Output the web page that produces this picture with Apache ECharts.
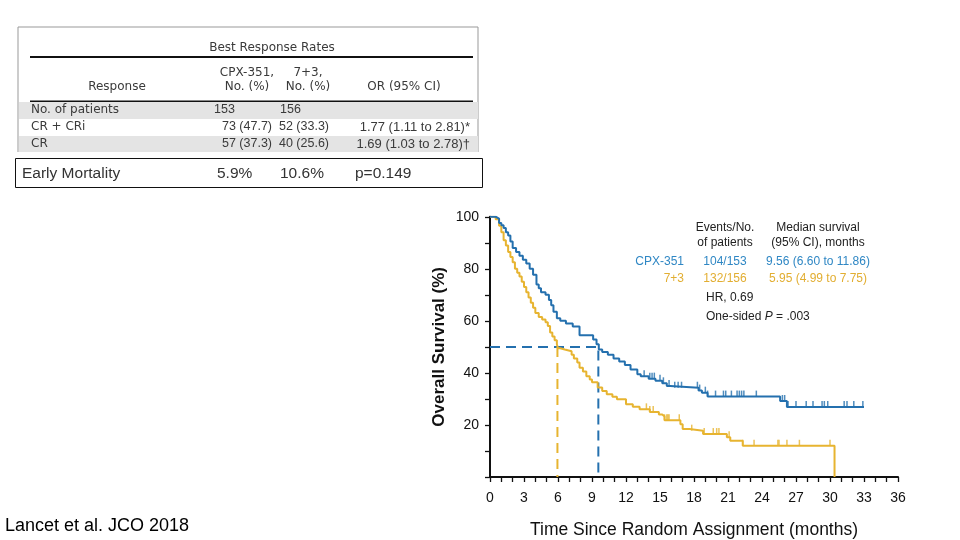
<!DOCTYPE html>
<html><head><meta charset="utf-8">
<script src="https://cdn.jsdelivr.net/npm/echarts@6/dist/echarts.min.js"></script>
<style>html,body{margin:0;padding:0;background:#fff}#c{width:960px;height:540px}</style>
</head><body><div id="c"></div>
<script>
// ---------- data ----------
const xTicks = [0,3,6,9,12,15,18,21,24,27,30,33,36];
const yTicks = [20,40,60,80,100];
const groupNames = ['CPX-351','7+3'];
const eventsText = ['104/153','132/156'];
const medianText = ['9.56 (6.60 to 11.86)','5.95 (4.99 to 7.75)'];
const medians = [9.56, 5.95];
const hrText = 'HR, 0.69';
const pText = ['One-sided ','P',' = .003'];

const cpxKM = [[0,100],[0.5,99.3],[0.8,97.6],[1.0,96.7],[1.2,95.7],[1.4,94],[1.6,92.8],[1.8,90.5],[2.0,88],[2.3,86.5],[2.6,85],[2.9,83.5],[3.2,82],[3.5,80],[3.8,77.7],[4.1,74],[4.3,72.5],[4.5,71],[4.9,70],[5.2,68],[5.4,66],[5.6,63.5],[5.9,61],[6.2,60],[6.7,59],[7.3,57.8],[7.9,54.5],[9.1,52.8],[9.4,51],[9.6,49],[9.9,48],[10.4,47],[10.9,45.5],[11.4,44.4],[11.9,43],[12.4,41.3],[13.0,39.5],[13.3,38.7],[14.0,37.8],[14.6,37],[15.2,36],[15.6,35],[15.9,34.3],[18.4,33.2],[18.7,32.4],[19.2,30.9],[25.6,29.2],[26.2,26.9],[33.0,26.9]];
const ttKM = [[0,100],[0.5,99],[0.8,96.5],[1.0,94],[1.2,91],[1.4,89],[1.6,86.5],[1.8,84.5],[2.0,82.5],[2.2,80],[2.4,78.5],[2.6,77],[2.8,75],[3.0,73],[3.2,71],[3.4,69],[3.6,67],[3.8,65],[4.0,63],[4.3,61.5],[4.6,60.5],[4.9,59.5],[5.1,58],[5.3,55.5],[5.5,54],[5.7,52.5],[5.9,51],[6.0,49.5],[6.2,49],[6.6,48.3],[7.2,47],[7.4,45.5],[7.7,44],[7.9,42],[8.2,40.5],[8.5,38.7],[8.8,37.5],[9.0,36.4],[9.5,34.4],[9.9,33],[10.3,31.8],[10.8,30.8],[11.2,29.9],[12.0,28],[12.6,27],[13.2,26],[14.1,25],[14.9,24],[15.2,23.3],[15.4,21.8],[16.8,20.3],[17.0,18.4],[17.6,17.8],[18.8,16.5],[20.9,15.3],[21.2,13.9],[22.3,12.0],[30.4,0]];
const cpxCensor = [13.6,14.1,14.3,14.5,15.0,15.3,15.8,16.3,16.6,16.9,18.3,18.5,19.0,19.2,19.9,20.6,20.8,21.3,21.8,22.0,22.2,22.4,23.5,25.8,26.0,26.3,27.0,27.9,28.5,29.3,29.5,29.8,31.25,31.5,32.1,32.9];
const ttCensor = [13.8,14.1,14.4,15.4,15.6,15.7,15.8,16.7,17.8,18.9,19.7,20.0,20.2,21.1,22.3,23.3,25.4,25.5,26.2,27.3,30.0];

const tableTitle = 'Best Response Rates';
const tableHead1 = ['', 'CPX-351,', '7+3,', ''];
const tableHead2 = ['Response', 'No. (%)', 'No. (%)', 'OR (95% CI)'];
const tableRows = [
  ['No. of patients', '153', '156', ''],
  ['CR + CRi', '73 (47.7)', '52 (33.3)', '1.77 (1.11 to 2.81)*'],
  ['CR', '57 (37.3)', '40 (25.6)', '1.69 (1.03 to 2.78)\u2020']
];
const mortality = ['Early Mortality', '5.9%', '10.6%', 'p=0.149'];
const citation = 'Lancet et al. JCO 2018';

// ---------- helpers ----------
const BLUE = '#2470ae', YEL = '#e7b430', BLUE_T = '#2f87c4', YEL_T = '#e2ae32';
const SANS = "'Liberation Sans',Arial,sans-serif";
function stepAt(km, t){ let v = km[0][1]; for (const p of km){ if (p[0] <= t) v = p[1]; else break; } return v; }
const cpxCensorPts = cpxCensor.map(t => [t, stepAt(cpxKM, t)]);
const ttCensorPts = ttCensor.map(t => [t, stepAt(ttKM, t)]);

// ---------- table graphics ----------
const G = [];
const TF = "'DejaVu Sans',sans-serif";
const NF = "12.5px " + SANS;
const tc = '#3a3a3a';
function txt(x, y, t, align, font, fill){ G.push({type:'text', x:x, y:y, style:{text:t, font:font || ("12px "+TF), fill:fill || tc, align:align || 'left', verticalAlign:'middle'}}); }
G.push({type:'line', shape:{x1:18,y1:27,x2:478,y2:27}, style:{stroke:'#999',lineWidth:1}});
G.push({type:'line', shape:{x1:18,y1:27,x2:18,y2:152}, style:{stroke:'#999',lineWidth:1}});
G.push({type:'line', shape:{x1:478,y1:27,x2:478,y2:152}, style:{stroke:'#999',lineWidth:1}});
G.push({type:'rect', shape:{x:19,y:102,width:459,height:17}, style:{fill:'#e4e4e4'}});
G.push({type:'rect', shape:{x:19,y:136,width:459,height:16}, style:{fill:'#e4e4e4'}});
txt(272, 48, tableTitle, 'center');
G.push({type:'rect', shape:{x:30,y:56,width:443,height:2}, style:{fill:'#111'}});
G.push({type:'rect', shape:{x:30,y:100.5,width:443,height:1.5}, style:{fill:'#111'}});
const colX = [117, 247, 308, 404];
tableHead1.forEach((t,i)=>{ if(t) txt(colX[i], 73, t, 'center'); });
tableHead2.forEach((t,i)=>{ txt(colX[i], 87, t, 'center'); });
const rowY = [110, 127, 144];
tableRows.forEach((r,j)=>{
  txt(31, rowY[j], r[0], 'left');
  if (j===0){
    txt(214, rowY[j], r[1], 'left', NF);
    txt(280, rowY[j], r[2], 'left', NF);
  } else {
    txt(272, rowY[j], r[1], 'right', NF);
    txt(329, rowY[j], r[2], 'right', NF);
    txt(470, rowY[j], r[3], 'right', "13px " + SANS);
  }
});
G.push({type:'rect', shape:{x:15.5,y:158.5,width:467,height:29}, style:{fill:'none', stroke:'#111', lineWidth:1}});
const mX = [22, 217, 280, 355];
mortality.forEach((t,i)=>txt(mX[i], 174, t, 'left', "15.5px "+SANS, '#333'));
txt(5, 526, citation, 'left', "18px "+SANS, '#000');

// ---------- in-plot legend ----------
const LF = "12px "+SANS;
txt(725, 228, 'Events/No.', 'center', LF, '#222');
txt(725, 243, 'of patients', 'center', LF, '#222');
txt(818, 228, 'Median survival', 'center', LF, '#222');
txt(818, 243, '(95% CI), months', 'center', LF, '#222');
const legY = [262, 279], legC = [BLUE_T, YEL_T];
groupNames.forEach((g,i)=>{
  txt(684, legY[i], g, 'right', LF, legC[i]);
  txt(725, legY[i], eventsText[i], 'center', LF, legC[i]);
  txt(818, legY[i], medianText[i], 'center', LF, legC[i]);
});
txt(706, 298, hrText, 'left', LF, '#222');
G.push({type:'text', x:706, y:317, style:{text:'{a|'+pText[0]+'}{b|'+pText[1]+'}{a|'+pText[2]+'}', font:LF, fill:'#222', align:'left', verticalAlign:'middle',
  rich:{a:{fontSize:12, fontFamily:SANS, fill:'#222'}, b:{fontSize:12, fontFamily:SANS, fontStyle:'italic', fill:'#222'}}}});

// ---------- chart ----------
const chart = echarts.init(document.getElementById('c'), null, {renderer:'canvas'});
const axisFont = {fontSize:14, fontFamily:SANS, color:'#111'};
chart.setOption({
  animation:false,
  backgroundColor:'#fff',
  grid:{left:490, right:62, top:216.75, bottom:62, containLabel:false},
  xAxis:{type:'value', min:0, max:36, interval:3,
    name:'Time Since Random Assignment (months)', nameLocation:'middle', nameGap:44,
    nameTextStyle:{fontSize:17.5, fontFamily:SANS, color:'#111'},
    axisLine:{lineStyle:{color:'#111', width:2}},
    axisTick:{show:true, length:5, lineStyle:{color:'#111', width:1.3}},
    minorTick:{show:true, splitNumber:3, length:5, lineStyle:{color:'#111', width:1.3}},
    axisLabel:Object.assign({margin:14}, axisFont),
    splitLine:{show:false}},
  yAxis:{type:'value', min:0, max:100, interval:20,
    name:'Overall Survival (%)', nameLocation:'middle', nameGap:42, nameRotate:90,
    nameTextStyle:{fontSize:17, fontFamily:SANS, color:'#111', fontWeight:'bold'},
    axisLine:{show:true, lineStyle:{color:'#111', width:2}},
    axisTick:{show:true, length:5, lineStyle:{color:'#111', width:1.3}},
    minorTick:{show:true, splitNumber:2, length:5, lineStyle:{color:'#111', width:1.3}},
    axisLabel:Object.assign({margin:11, showMinLabel:false, formatter:v => v===0 ? '' : String(v)}, axisFont),
    splitLine:{show:false}},
  series:[
    {type:'line', data:[[0,50],[medians[0],50],[medians[0],0]], symbol:'none', lineStyle:{color:BLUE, width:2, type:[10,6]}, z:1},
    {type:'line', data:[[medians[1],50],[medians[1],0]], symbol:'none', lineStyle:{color:YEL, width:2, type:[10,6]}, z:1},
    {type:'line', name:groupNames[1], data:ttKM, step:'end', symbol:'none', lineStyle:{color:YEL, width:2}, z:2},
    {type:'line', name:groupNames[0], data:cpxKM, step:'end', symbol:'none', lineStyle:{color:BLUE, width:2}, z:3},
    {type:'scatter', data:ttCensorPts, symbol:'rect', symbolSize:[1.5,6], symbolOffset:[0,-3], itemStyle:{color:YEL}, z:2},
    {type:'scatter', data:cpxCensorPts, symbol:'rect', symbolSize:[1.5,6], symbolOffset:[0,-3], itemStyle:{color:BLUE}, z:3}
  ],
  graphic:G
});
</script></body></html>
